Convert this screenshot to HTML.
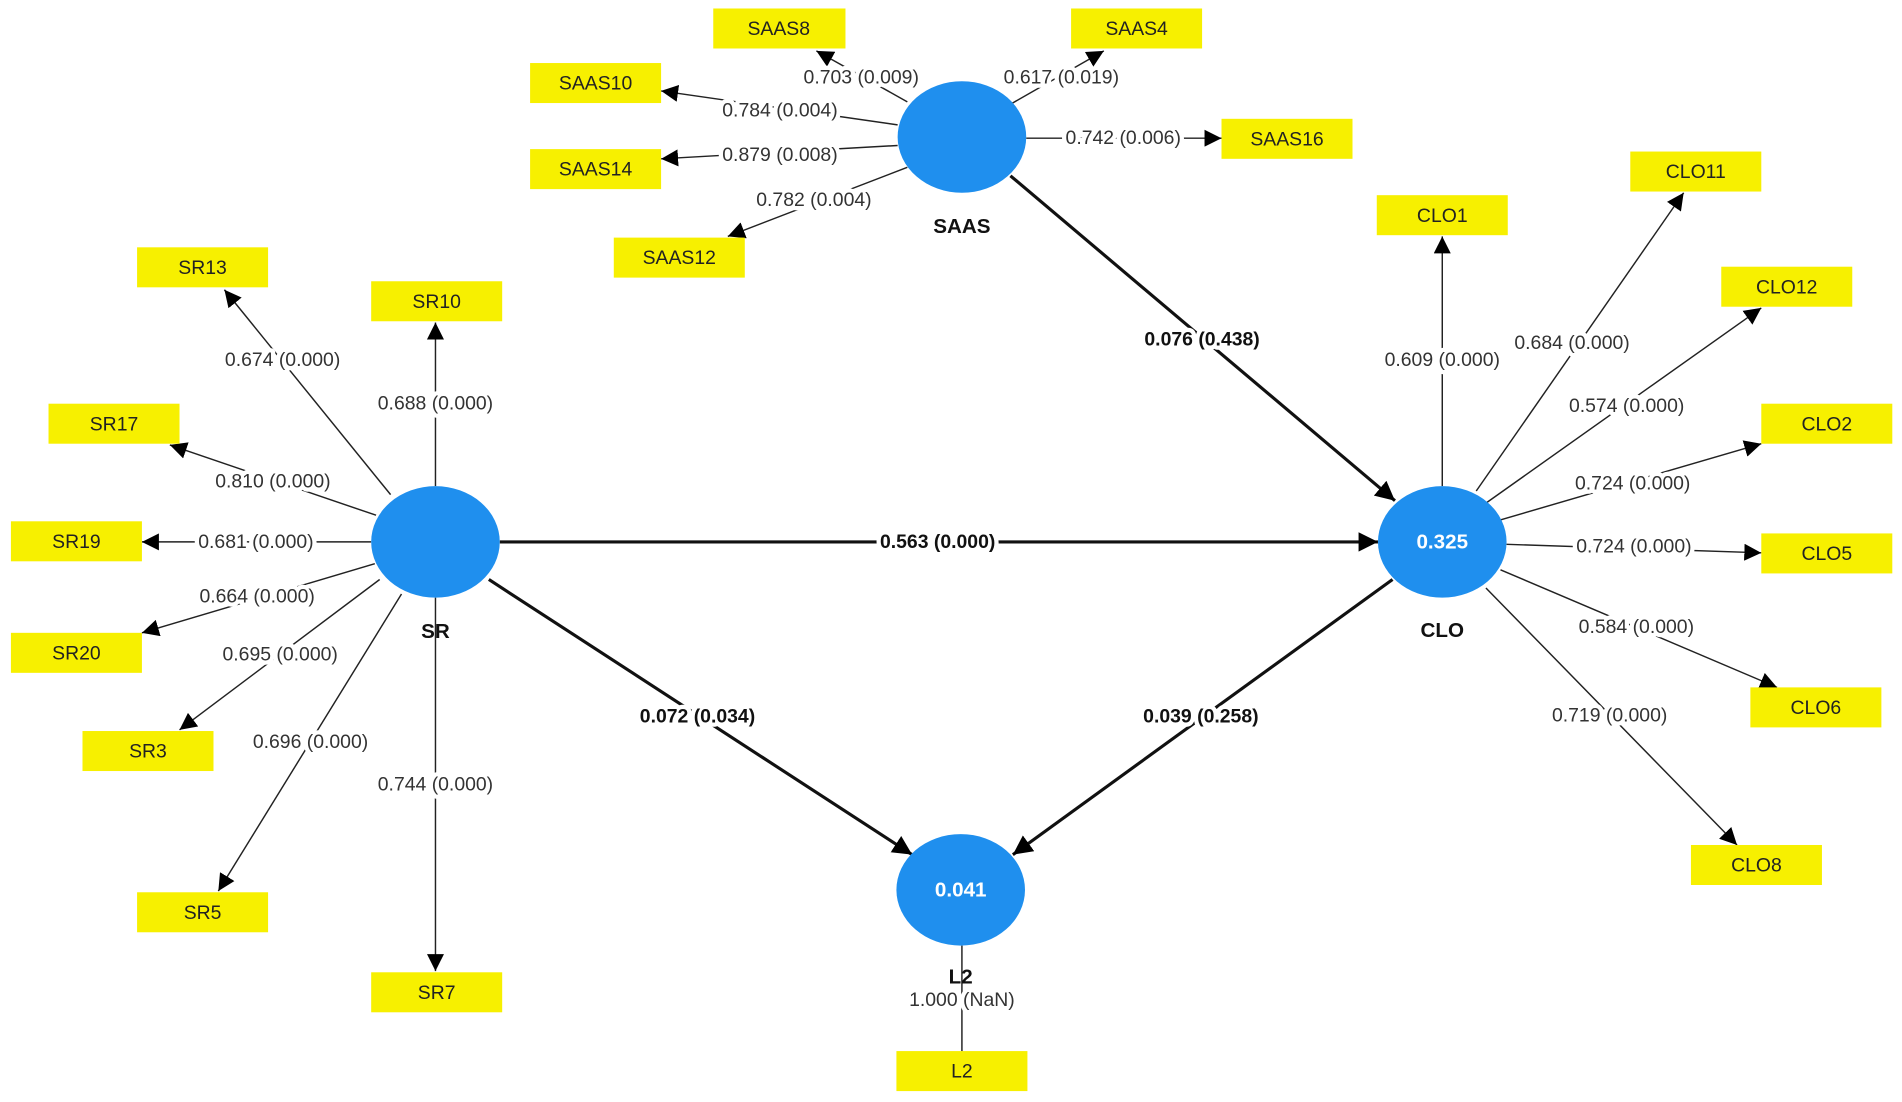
<!DOCTYPE html>
<html><head><meta charset="utf-8"><style>
html,body{margin:0;padding:0;background:#fff;}
svg{display:block}
text{font-family:"Liberation Sans",sans-serif;}
.l{font-size:16px;fill:#333;text-anchor:middle;dominant-baseline:central;paint-order:stroke;stroke:#fff;stroke-width:7px;stroke-linejoin:round}
.b{font-size:16px;font-weight:bold;fill:#111;text-anchor:middle;dominant-baseline:central;paint-order:stroke;stroke:#fff;stroke-width:7px;stroke-linejoin:round}
.bx{font-size:16px;fill:#222;text-anchor:middle;dominant-baseline:central}
.n{font-size:17px;font-weight:bold;fill:#111;text-anchor:middle;dominant-baseline:central}
.c{font-size:17px;font-weight:bold;fill:#fff;text-anchor:middle;dominant-baseline:central}
.t{stroke:#222;stroke-width:1.2;fill:none}
.k{stroke:#111;stroke-width:2.6;fill:none}
rect{fill:#f7f000}
</style></head><body>
<svg width="1902" height="1102" viewBox="0 0 1568 909" preserveAspectRatio="none">
<defs>
<marker id="a" viewBox="0 0 10 10" refX="10" refY="5" markerWidth="14" markerHeight="14" markerUnits="userSpaceOnUse" orient="auto"><path d="M0,0L10,5L0,10z" fill="#000"/></marker>
<marker id="A" viewBox="0 0 10 10" refX="10" refY="5" markerWidth="16" markerHeight="16" markerUnits="userSpaceOnUse" orient="auto"><path d="M0,0L10,5L0,10z" fill="#000"/></marker>
</defs>
<g class="t" marker-end="url(#a)">
<line x1="748" y1="84" x2="673" y2="42"/>
<line x1="740" y1="103" x2="545" y2="75"/>
<line x1="740" y1="120" x2="545" y2="131"/>
<line x1="748" y1="138" x2="600" y2="195"/>
<line x1="833" y1="86" x2="910" y2="42"/>
<line x1="846" y1="114" x2="1007" y2="114"/>
<line x1="322" y1="408" x2="185" y2="239"/>
<line x1="359" y1="401" x2="359" y2="266"/>
<line x1="310" y1="425" x2="140" y2="367"/>
<line x1="306" y1="447" x2="117" y2="447"/>
<line x1="309" y1="465" x2="117" y2="522"/>
<line x1="313" y1="478" x2="148" y2="602"/>
<line x1="331" y1="490" x2="180" y2="735"/>
<line x1="359" y1="493" x2="359" y2="801"/>
<line x1="1189" y1="401" x2="1189" y2="195"/>
<line x1="1217" y1="405" x2="1388" y2="159"/>
<line x1="1225" y1="415" x2="1452" y2="254"/>
<line x1="1233" y1="430" x2="1452" y2="366"/>
<line x1="1242" y1="449" x2="1452" y2="456"/>
<line x1="1237" y1="470" x2="1465" y2="567"/>
<line x1="1225" y1="485" x2="1432" y2="697"/>
</g>
<line class="t" x1="793" y1="780" x2="793" y2="867"/>
<g class="k" marker-end="url(#A)">
<line x1="412" y1="447" x2="1136" y2="447"/>
<line x1="833" y1="145" x2="1150" y2="413"/>
<line x1="403" y1="478" x2="752" y2="705"/>
<line x1="1148" y1="478" x2="835" y2="705"/>
</g>
<g fill="#1f8fee">
<ellipse cx="359" cy="447" rx="53" ry="46"/>
<ellipse cx="793" cy="113" rx="53" ry="46"/>
<ellipse cx="1189" cy="447" rx="53" ry="46"/>
<ellipse cx="792" cy="734" rx="53" ry="46"/>
</g>
<text class="c" x="1189" y="447">0.325</text>
<text class="c" x="792" y="734">0.041</text>
<text class="n" x="793" y="187">SAAS</text>
<text class="n" x="359" y="521">SR</text>
<text class="n" x="1189" y="520">CLO</text>
<text class="n" x="792" y="806">L2</text>
<g>
<rect x="588" y="7" width="109" height="33"/><text class="bx" x="642" y="24">SAAS8</text>
<rect x="883" y="7" width="108" height="33"/><text class="bx" x="937" y="24">SAAS4</text>
<rect x="437" y="52" width="108" height="33"/><text class="bx" x="491" y="69">SAAS10</text>
<rect x="1007" y="98" width="108" height="33"/><text class="bx" x="1061" y="115">SAAS16</text>
<rect x="437" y="123" width="108" height="33"/><text class="bx" x="491" y="140">SAAS14</text>
<rect x="506" y="196" width="108" height="33"/><text class="bx" x="560" y="213">SAAS12</text>
<rect x="113" y="204" width="108" height="33"/><text class="bx" x="167" y="221">SR13</text>
<rect x="306" y="232" width="108" height="33"/><text class="bx" x="360" y="249">SR10</text>
<rect x="40" y="333" width="108" height="33"/><text class="bx" x="94" y="350">SR17</text>
<rect x="9" y="430" width="108" height="33"/><text class="bx" x="63" y="447">SR19</text>
<rect x="9" y="522" width="108" height="33"/><text class="bx" x="63" y="539">SR20</text>
<rect x="68" y="603" width="108" height="33"/><text class="bx" x="122" y="620">SR3</text>
<rect x="113" y="736" width="108" height="33"/><text class="bx" x="167" y="753">SR5</text>
<rect x="306" y="802" width="108" height="33"/><text class="bx" x="360" y="819">SR7</text>
<rect x="739" y="867" width="108" height="33"/><text class="bx" x="793" y="884">L2</text>
<rect x="1135" y="161" width="108" height="33"/><text class="bx" x="1189" y="178">CLO1</text>
<rect x="1344" y="125" width="108" height="33"/><text class="bx" x="1398" y="142">CLO11</text>
<rect x="1419" y="220" width="108" height="33"/><text class="bx" x="1473" y="237">CLO12</text>
<rect x="1452" y="333" width="108" height="33"/><text class="bx" x="1506" y="350">CLO2</text>
<rect x="1452" y="440" width="108" height="33"/><text class="bx" x="1506" y="457">CLO5</text>
<rect x="1443" y="567" width="108" height="33"/><text class="bx" x="1497" y="584">CLO6</text>
<rect x="1394" y="697" width="108" height="33"/><text class="bx" x="1448" y="714">CLO8</text>
</g>
<text class="l" x="710" y="64">0.703 (0.009)</text>
<text class="l" x="643" y="91">0.784 (0.004)</text>
<text class="l" x="643" y="128">0.879 (0.008)</text>
<text class="l" x="671" y="165">0.782 (0.004)</text>
<text class="l" x="875" y="64">0.617 (0.019)</text>
<text class="l" x="926" y="114">0.742 (0.006)</text>
<text class="l" x="233" y="297">0.674 (0.000)</text>
<text class="l" x="359" y="333">0.688 (0.000)</text>
<text class="l" x="225" y="397">0.810 (0.000)</text>
<text class="l" x="211" y="447">0.681 (0.000)</text>
<text class="l" x="212" y="492">0.664 (0.000)</text>
<text class="l" x="231" y="540">0.695 (0.000)</text>
<text class="l" x="256" y="612">0.696 (0.000)</text>
<text class="l" x="359" y="647">0.744 (0.000)</text>
<text class="l" x="1189" y="297">0.609 (0.000)</text>
<text class="l" x="1296" y="283">0.684 (0.000)</text>
<text class="l" x="1341" y="335">0.574 (0.000)</text>
<text class="l" x="1346" y="399">0.724 (0.000)</text>
<text class="l" x="1347" y="451">0.724 (0.000)</text>
<text class="l" x="1349" y="517">0.584 (0.000)</text>
<text class="l" x="1327" y="590">0.719 (0.000)</text>
<text class="l" x="793" y="825">1.000 (NaN)</text>
<text class="b" x="773" y="447">0.563 (0.000)</text>
<text class="b" x="991" y="280">0.076 (0.438)</text>
<text class="b" x="575" y="591">0.072 (0.034)</text>
<text class="b" x="990" y="591">0.039 (0.258)</text>
</svg>
</body></html>
